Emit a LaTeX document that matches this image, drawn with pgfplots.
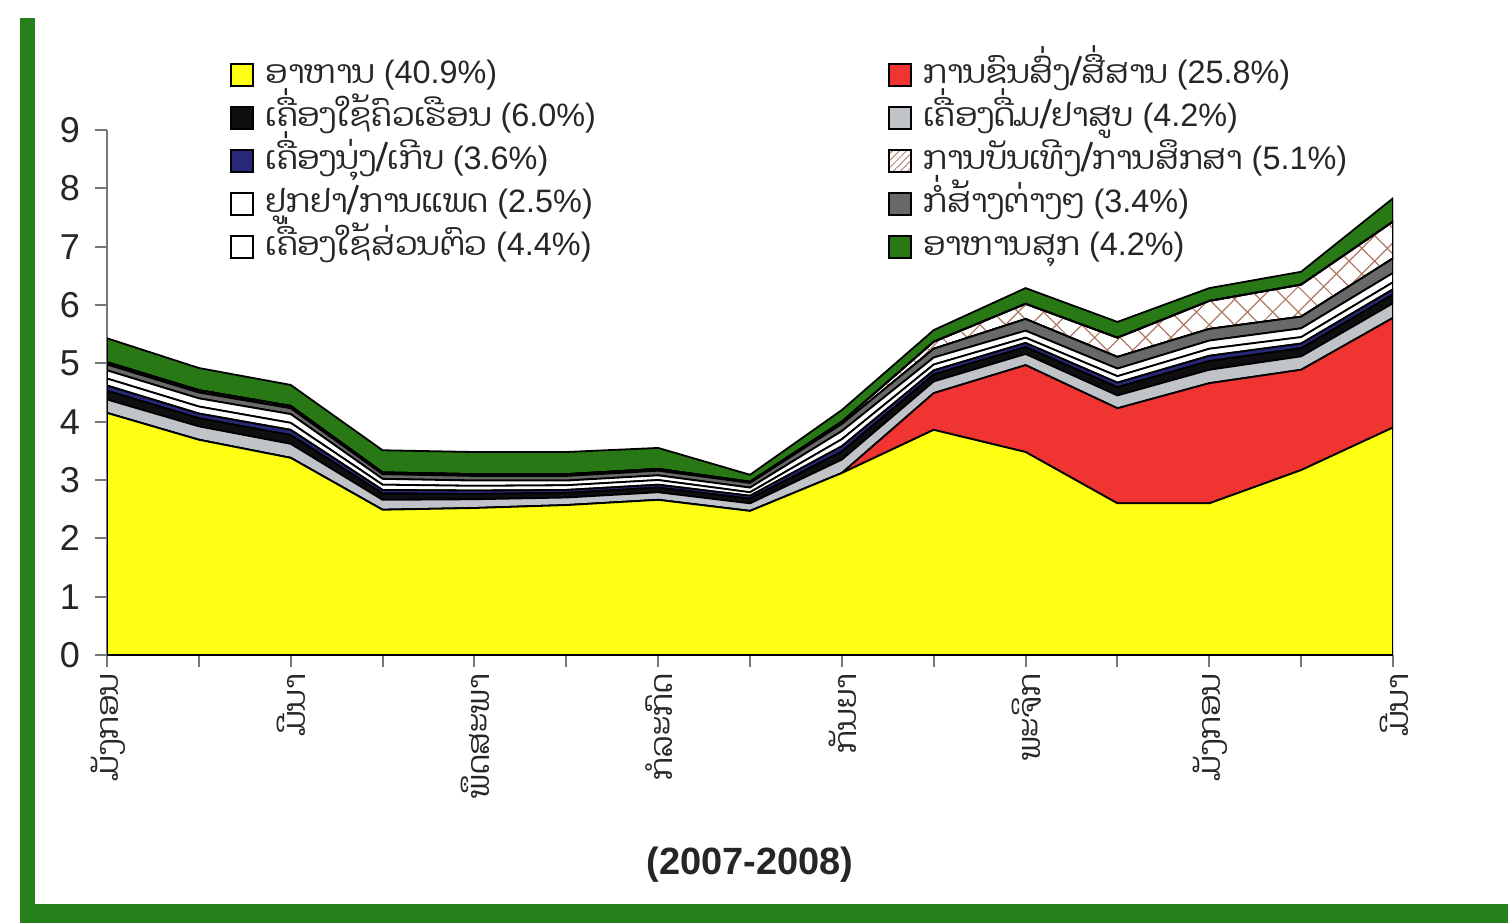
\documentclass[border=0pt]{standalone}
\usepackage{fontspec}
\setmainfont{Liberation Sans}
\newfontfamily\laofont[Script=Lao]{Dhyana}
\usepackage{pgfplots}
\pgfplotsset{compat=1.18}
\usepackage{pgfplotstable}
\usetikzlibrary{patterns.meta}

\definecolor{framegreen}{RGB}{38,128,28}
\definecolor{foodyellow}{RGB}{255,255,20}
\definecolor{transred}{RGB}{240,52,50}
\definecolor{bevgrey}{RGB}{192,196,200}
\definecolor{hhblack}{RGB}{15,15,15}
\definecolor{clnavy}{RGB}{40,40,120}
\definecolor{constgrey}{RGB}{105,105,105}
\definecolor{hatchc}{RGB}{175,120,100}
\definecolor{restgreen}{RGB}{40,120,22}
\definecolor{axisgray}{RGB}{120,120,120}

\pgfplotstableread{
x food transport bev household clothing medical personal construction recreation restaurant
0  4.15 0    0.23 0.15 0.09 0.12 0.14 0.10 0.04 0.41
1  3.69 0    0.23 0.14 0.08 0.12 0.14 0.10 0.04 0.38
2  3.38 0    0.24 0.15 0.09 0.12 0.15 0.10 0.04 0.36
3  2.49 0    0.17 0.11 0.06 0.09 0.10 0.08 0.03 0.38
4  2.52 0    0.15 0.09 0.06 0.08 0.09 0.08 0.03 0.38
5  2.57 0    0.13 0.08 0.05 0.08 0.08 0.08 0.03 0.38
6  2.66 0    0.13 0.08 0.05 0.08 0.08 0.08 0.03 0.36
7  2.47 0    0.13 0.08 0.05 0.06 0.08 0.08 0.02 0.12
8  3.12 0    0.23 0.14 0.09 0.12 0.14 0.12 0.04 0.20
9  3.86 0.63 0.20 0.12 0.07 0.10 0.12 0.15 0.12 0.20
10 3.48 1.49 0.19 0.12 0.07 0.09 0.12 0.20 0.26 0.27
11 2.60 1.63 0.22 0.14 0.08 0.11 0.13 0.20 0.33 0.27
12 2.60 2.06 0.23 0.15 0.09 0.12 0.14 0.20 0.48 0.22
13 3.17 1.72 0.23 0.14 0.08 0.11 0.15 0.20 0.55 0.22
14 3.90 1.88 0.25 0.15 0.09 0.12 0.16 0.25 0.63 0.40
}\datatable

\tikzset{
  hatchstyle/.style={fill=white,
    postaction={pattern={Lines[angle=45,distance=9pt,line width=0.6pt]},pattern color=hatchc},
    postaction={pattern={Lines[angle=-45,distance=9pt,line width=0.6pt]},pattern color=hatchc}},
  legendhatch/.style={fill=white,
    postaction={pattern={Lines[angle=45,distance=2.5pt,line width=0.4pt]},pattern color=hatchc}}
}

\begin{document}
\begin{tikzpicture}
\path[use as bounding box] (0pt,0pt) rectangle (754pt,461.5pt);
\fill[framegreen] (10pt,0pt) rectangle (17.5pt,452.5pt);
\fill[framegreen] (10pt,0pt) rectangle (754pt,9.5pt);
\begin{axis}[
  at={(53.5pt,134pt)}, anchor=south west,
  scale only axis, width=643pt, height=262.5pt,
  xmin=0, xmax=14, ymin=0, ymax=9,
  axis lines=left,
  axis line style={-, draw=axisgray, line width=1pt},
  tick align=outside, major tick length=6pt,
  tick style={draw=axisgray, line width=1pt},
  xtick={0,...,14},
  xticklabels={ມັງກອນ,,ມີນາ,,ພຶດສະພາ,,ກໍລະກົດ,,ກັນຍາ,,ພະຈິກ,,ມັງກອນ,,ມີນາ},
  xticklabel style={font=\laofont\fontsize{15.5}{18}\selectfont, text=black!85, rotate=90, anchor=east, yshift=-0.5pt},
  ytick={0,...,9},
  yticklabel style={font=\fontsize{18}{20}\selectfont, text=black!85, /pgf/number format/assume math mode=true, xshift=-4pt},
  xlabel={(2007-2008)},
  xlabel style={font=\bfseries\fontsize{19}{22}\selectfont, text=black!85, at={(axis description cs:0.5,-0.40)}, anchor=center},
  stack plots=y,
  no markers,
  every axis plot/.append style={draw=black, line width=0.9pt},
  legend columns=2,
  legend cell align=left,
  legend style={at={(0.0956,1.137)}, anchor=north west, draw=none, fill=none, inner sep=0pt,
    font=\fontsize{16.2}{19}\selectfont, text=black!85, row sep=5pt,
    nodes={inner xsep=6pt, inner ysep=0pt, text height=12.5pt, text depth=4pt}},
  legend image code/.code={\draw[#1,line width=0.8pt] (0pt,-5.5pt) rectangle (11pt,5.5pt);},
]
\addlegendimage{fill=foodyellow,draw=black}
\addlegendentry{\makebox[305pt][l]{{\laofont ອາຫານ} (40.9\%)}}
\addlegendimage{fill=transred,draw=black}
\addlegendentry{{\laofont ການຂົນສົ່ງ/ສື່ສານ} (25.8\%)}
\addlegendimage{fill=hhblack,draw=black}
\addlegendentry{\makebox[305pt][l]{{\laofont ເຄື່ອງໃຊ້ຄົວເຮືອນ} (6.0\%)}}
\addlegendimage{fill=bevgrey,draw=black}
\addlegendentry{{\laofont ເຄື່ອງດື່ມ/ຢາສູບ} (4.2\%)}
\addlegendimage{fill=clnavy,draw=black}
\addlegendentry{\makebox[305pt][l]{{\laofont ເຄື່ອງນຸ່ງ/ເກີບ} (3.6\%)}}
\addlegendimage{legendhatch,draw=black}
\addlegendentry{{\laofont ການບັນເທີງ/ການສຶກສາ} (5.1\%)}
\addlegendimage{fill=white,draw=black}
\addlegendentry{\makebox[305pt][l]{{\laofont ຢູກຢາ/ການແພດ} (2.5\%)}}
\addlegendimage{fill=constgrey,draw=black}
\addlegendentry{{\laofont ກໍ່ສ້າງຕ່າງໆ} (3.4\%)}
\addlegendimage{fill=white,draw=black}
\addlegendentry{\makebox[305pt][l]{{\laofont ເຄື່ອງໃຊ້ສ່ວນຕົວ} (4.4\%)}}
\addlegendimage{fill=restgreen,draw=black}
\addlegendentry{{\laofont ອາຫານສຸກ} (4.2\%)}

\addplot[fill=foodyellow] table[x=x,y=food]{\datatable} \closedcycle;
\addplot[fill=transred] table[x=x,y=transport]{\datatable} \closedcycle;
\addplot[fill=bevgrey] table[x=x,y=bev]{\datatable} \closedcycle;
\addplot[fill=hhblack] table[x=x,y=household]{\datatable} \closedcycle;
\addplot[fill=clnavy] table[x=x,y=clothing]{\datatable} \closedcycle;
\addplot[fill=white] table[x=x,y=medical]{\datatable} \closedcycle;
\addplot[fill=white] table[x=x,y=personal]{\datatable} \closedcycle;
\addplot[fill=constgrey] table[x=x,y=construction]{\datatable} \closedcycle;
\addplot[hatchstyle] table[x=x,y=recreation]{\datatable} \closedcycle;
\addplot[fill=restgreen] table[x=x,y=restaurant]{\datatable} \closedcycle;
\end{axis}
\end{tikzpicture}
\end{document}
